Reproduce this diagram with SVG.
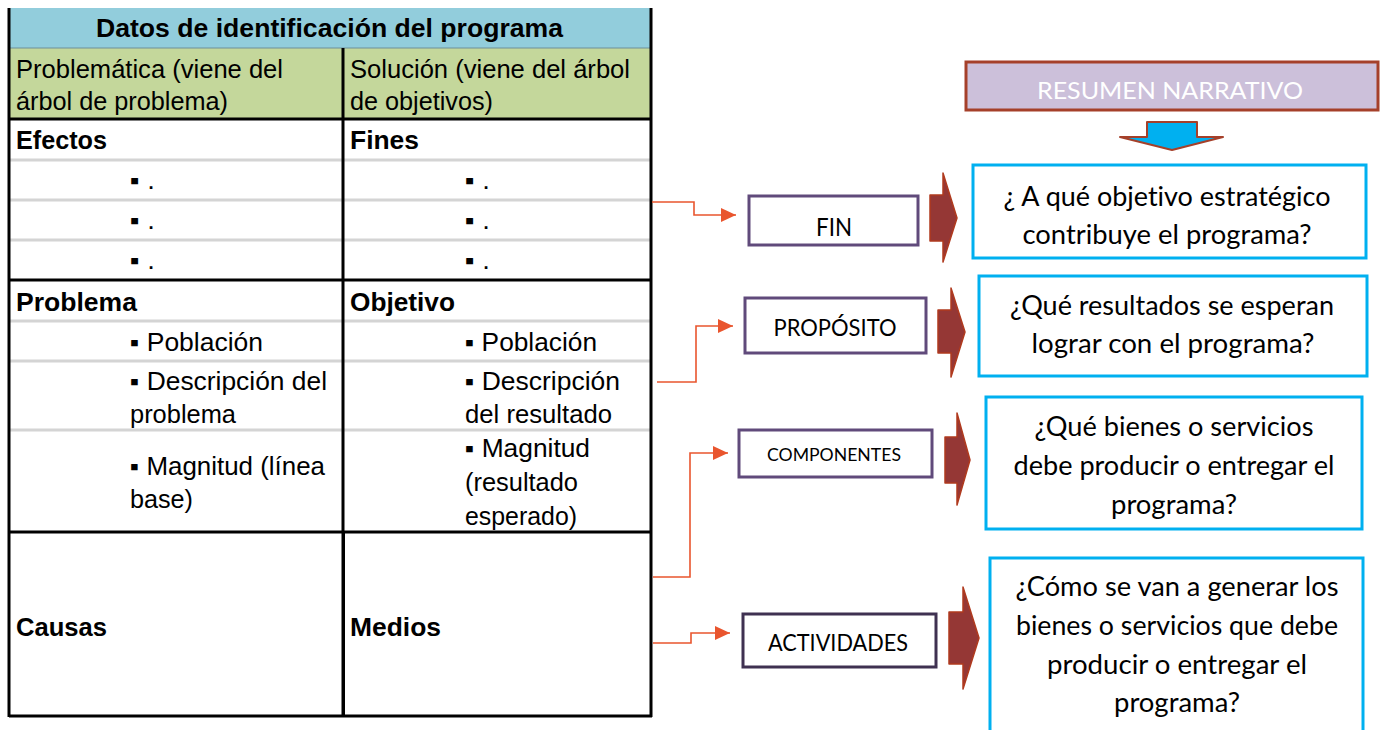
<svg xmlns="http://www.w3.org/2000/svg" width="1382" height="730" viewBox="0 0 1382 730">
<style>
.t{font-family:"Liberation Sans",Arial,sans-serif;font-size:25px;fill:#000}
.b{font-weight:bold}
.c{font-family:Lato,"Open Sans",sans-serif;fill:#000;text-anchor:middle;font-variant-ligatures:none}
.q{font-size:27px}
.lab{fill:#fff;stroke:#604a7b;stroke-width:3}
.qb{fill:#fff;stroke:#00b0f0;stroke-width:3}
.blk{fill:#953735;stroke:#b03a1e;stroke-width:1.5;stroke-linejoin:round}
.gl{stroke:#d4d4d4;stroke-width:3}
.bl{stroke:#000;stroke-width:3}
.con{fill:none;stroke:#e9552e;stroke-width:1.6}
</style>
<defs>
<marker id="ah" markerUnits="userSpaceOnUse" markerWidth="16" markerHeight="14" refX="15" refY="7" orient="auto">
<path d="M0,0 L15,7 L0,14 z" fill="#e9552e"/>
</marker>
</defs>
<rect width="1382" height="730" fill="#fff"/>

<g id="table">
<rect x="9" y="8" width="643" height="40" fill="#92cddc"/>
<rect x="9" y="48" width="643" height="71" fill="#c4d79b"/>
<line x1="9" y1="48" x2="652" y2="48" stroke="#6d8f9a" stroke-width="1"/>
<line class="gl" x1="10" y1="160" x2="651" y2="160"/>
<line class="gl" x1="10" y1="200" x2="651" y2="200"/>
<line class="gl" x1="10" y1="240" x2="651" y2="240"/>
<line class="gl" x1="10" y1="321" x2="651" y2="321"/>
<line class="gl" x1="10" y1="361" x2="651" y2="361"/>
<line class="gl" x1="10" y1="430" x2="651" y2="430"/>
<line class="bl" x1="9" y1="119" x2="652" y2="119"/>
<line class="bl" x1="9" y1="280" x2="652" y2="280"/>
<line class="bl" x1="9" y1="532" x2="652" y2="532"/>
<line class="bl" x1="9" y1="716" x2="652" y2="716"/>
<line class="bl" x1="9" y1="8" x2="9" y2="717"/>
<line class="bl" x1="651" y1="8" x2="651" y2="717"/>
<line class="bl" x1="343" y1="48" x2="343" y2="717"/>
<line x1="344" y1="532" x2="344" y2="717" stroke="#000" stroke-width="2"/>

<text class="t b" x="96" y="37" textLength="467" lengthAdjust="spacingAndGlyphs">Datos de identificación del programa</text>
<text class="t" x="16" y="78" textLength="267" lengthAdjust="spacingAndGlyphs">Problemática (viene del</text>
<text class="t" x="16" y="110" textLength="212" lengthAdjust="spacingAndGlyphs">árbol de problema)</text>
<text class="t" x="350" y="78" textLength="280" lengthAdjust="spacingAndGlyphs">Solución (viene del árbol</text>
<text class="t" x="350" y="110" textLength="143" lengthAdjust="spacingAndGlyphs">de objetivos)</text>

<text class="t b" x="16" y="149" textLength="91" lengthAdjust="spacingAndGlyphs">Efectos</text>
<text class="t b" x="350" y="149" textLength="69" lengthAdjust="spacingAndGlyphs">Fines</text>
<text class="t" x="130" y="189" textLength="25" lengthAdjust="spacingAndGlyphs">▪ .</text>
<text class="t" x="130" y="229" textLength="25" lengthAdjust="spacingAndGlyphs">▪ .</text>
<text class="t" x="130" y="269" textLength="25" lengthAdjust="spacingAndGlyphs">▪ .</text>
<text class="t" x="465" y="189" textLength="25" lengthAdjust="spacingAndGlyphs">▪ .</text>
<text class="t" x="465" y="229" textLength="25" lengthAdjust="spacingAndGlyphs">▪ .</text>
<text class="t" x="465" y="269" textLength="25" lengthAdjust="spacingAndGlyphs">▪ .</text>

<text class="t b" x="16" y="311" textLength="121" lengthAdjust="spacingAndGlyphs">Problema</text>
<text class="t b" x="350" y="311" textLength="105" lengthAdjust="spacingAndGlyphs">Objetivo</text>
<text class="t" x="130" y="351" textLength="133" lengthAdjust="spacingAndGlyphs">▪ Población</text>
<text class="t" x="130" y="390" textLength="197" lengthAdjust="spacingAndGlyphs">▪ Descripción del</text>
<text class="t" x="130" y="423" textLength="106" lengthAdjust="spacingAndGlyphs">problema</text>
<text class="t" x="130" y="475" textLength="195" lengthAdjust="spacingAndGlyphs">▪ Magnitud (línea</text>
<text class="t" x="130" y="508" textLength="63" lengthAdjust="spacingAndGlyphs">base)</text>
<text class="t" x="465" y="351" textLength="132" lengthAdjust="spacingAndGlyphs">▪ Población</text>
<text class="t" x="465" y="390" textLength="155" lengthAdjust="spacingAndGlyphs">▪ Descripción</text>
<text class="t" x="465" y="423" textLength="147" lengthAdjust="spacingAndGlyphs">del resultado</text>
<text class="t" x="465" y="457" textLength="125" lengthAdjust="spacingAndGlyphs">▪ Magnitud</text>
<text class="t" x="465" y="491" textLength="113" lengthAdjust="spacingAndGlyphs">(resultado</text>
<text class="t" x="465" y="525" textLength="112" lengthAdjust="spacingAndGlyphs">esperado)</text>

<text class="t b" x="16" y="636" textLength="91" lengthAdjust="spacingAndGlyphs">Causas</text>
<text class="t b" x="350" y="636" textLength="91" lengthAdjust="spacingAndGlyphs">Medios</text>
</g>

<g id="connectors">
<path class="con" d="M652,202 H694 V215 H736" marker-end="url(#ah)"/>
<path class="con" d="M657,382 H696 V326 H733" marker-end="url(#ah)"/>
<path class="con" d="M653,577 H690 V453 H728" marker-end="url(#ah)"/>
<path class="con" d="M653,643 H691 V633 H730" marker-end="url(#ah)"/>
<polygon class="blk" points="930,195 943,195 943,173 957,218 943,262 943,241 930,241"/>
<polygon class="blk" points="938,310 951,310 951,288 965,332 951,377 951,353 938,353"/>
<polygon class="blk" points="945,437 957,437 957,413 970,460 957,505 957,483 945,483"/>
<polygon class="blk" points="949,612 963,612 963,587 979,638 963,689 963,664 949,664"/>
<polygon points="1147,122 1197,122 1197,137 1223,137 1172,150 1120,137 1147,137" fill="#00b0f0" stroke="#a5402a" stroke-width="2" stroke-linejoin="round"/>
</g>

<g id="resumen">
<rect x="966" y="62" width="412" height="48" fill="#ccc0da" stroke="#a5402a" stroke-width="3"/>
<text class="c" x="1170" y="99" font-size="24" style="fill:#fff" textLength="266" lengthAdjust="spacingAndGlyphs">RESUMEN NARRATIVO</text>
</g>

<g id="fin">
<rect class="lab" x="749" y="196" width="169" height="49"/>
<text class="c" x="834" y="236" font-size="25" textLength="36" lengthAdjust="spacingAndGlyphs">FIN</text>
</g>
<g id="proposito">
<rect class="lab" x="745" y="298" width="181" height="55"/>
<text class="c" x="835" y="336" font-size="23" textLength="123" lengthAdjust="spacingAndGlyphs">PROPÓSITO</text>
</g>
<g id="componentes">
<rect class="lab" x="739" y="430" width="193" height="47"/>
<text class="c" x="834" y="461" font-size="17" textLength="134" lengthAdjust="spacingAndGlyphs">COMPONENTES</text>
</g>
<g id="actividades">
<rect class="lab" x="743" y="614" width="193" height="53" style="stroke:#3f3151"/>
<text class="c" x="838" y="651" font-size="23" textLength="140" lengthAdjust="spacingAndGlyphs">ACTIVIDADES</text>
</g>

<g id="q-fin">
<rect class="qb" x="973" y="165" width="393" height="93"/>
<text class="c q" x="1167" y="206" textLength="327" lengthAdjust="spacingAndGlyphs">¿ A qué objetivo estratégico</text>
<text class="c q" x="1167" y="244" textLength="289" lengthAdjust="spacingAndGlyphs">contribuye el programa?</text>
</g>
<g id="q-proposito">
<rect class="qb" x="979" y="276" width="388" height="100"/>
<text class="c q" x="1172" y="315" textLength="324" lengthAdjust="spacingAndGlyphs">¿Qué resultados se esperan</text>
<text class="c q" x="1173" y="353" textLength="283" lengthAdjust="spacingAndGlyphs">lograr con el programa?</text>
</g>
<g id="q-componentes">
<rect class="qb" x="986" y="397" width="376" height="132"/>
<text class="c q" x="1174" y="436" textLength="279" lengthAdjust="spacingAndGlyphs">¿Qué bienes o servicios</text>
<text class="c q" x="1174" y="475" textLength="321" lengthAdjust="spacingAndGlyphs">debe producir o entregar el</text>
<text class="c q" x="1174" y="514" textLength="126" lengthAdjust="spacingAndGlyphs">programa?</text>
</g>
<g id="q-actividades">
<rect class="qb" x="990" y="558" width="373" height="190"/>
<text class="c q" x="1177" y="596" textLength="323" lengthAdjust="spacingAndGlyphs">¿Cómo se van a generar los</text>
<text class="c q" x="1177" y="635" textLength="322" lengthAdjust="spacingAndGlyphs">bienes o servicios que debe</text>
<text class="c q" x="1177" y="674" textLength="260" lengthAdjust="spacingAndGlyphs">producir o entregar el</text>
<text class="c q" x="1177" y="712" textLength="126" lengthAdjust="spacingAndGlyphs">programa?</text>
</g>
</svg>
